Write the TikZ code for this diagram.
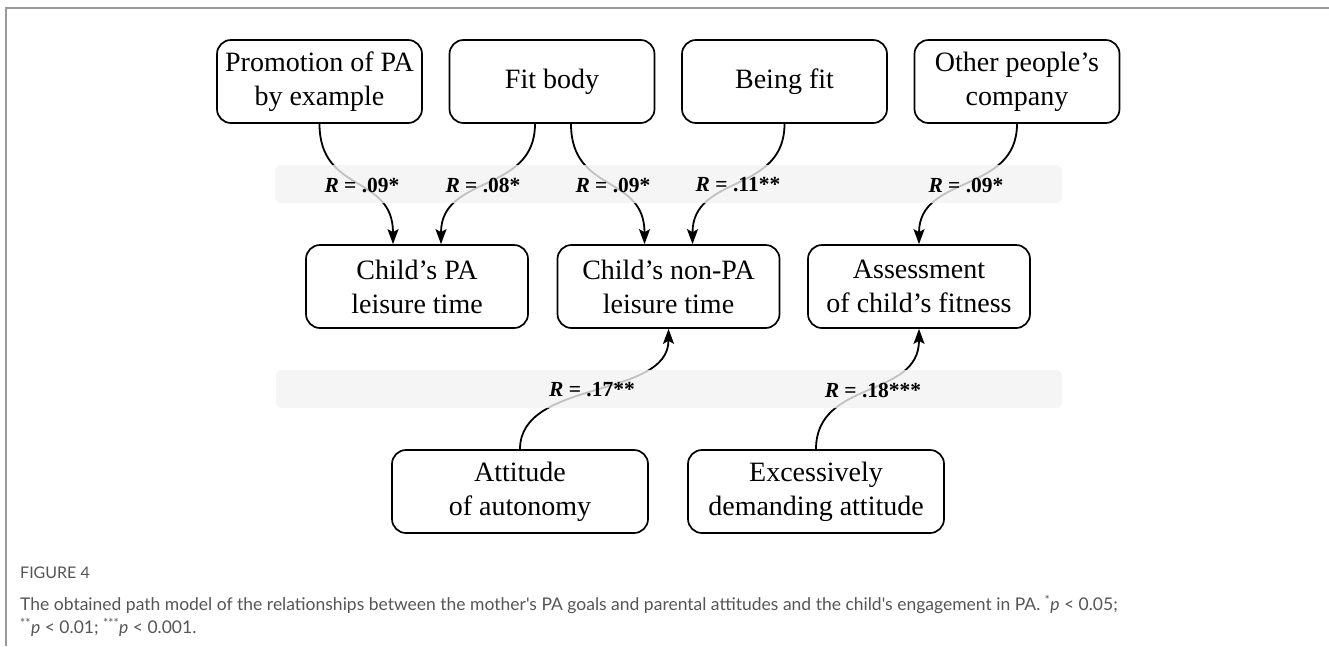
\documentclass[tikz,border=0pt]{standalone}
\usepackage{fontspec}
\setmainfont{Liberation Serif}
\newfontfamily\capfont{Lato}
\usetikzlibrary{arrows.meta}
\definecolor{bandgray}{HTML}{F2F2F2}
\definecolor{framegray}{HTML}{9A9A9A}
\definecolor{capgray}{HTML}{555555}

\begin{document}
\begin{tikzpicture}[x=1pt, y=-1pt,
  box/.style={draw, line width=1.7pt, rounded corners=14pt, align=center,
    minimum height=83pt, inner sep=0pt, font=\fontsize{28}{34}\selectfont},
  rlabel/.style={font=\fontsize{21.5}{24}\selectfont\bfseries, inner sep=1pt},
  link/.style={line width=1.8pt, -{Stealth[length=15pt, width=11pt, inset=3pt]}},
  band/.style={fill=bandgray, fill opacity=0.8, rounded corners=6pt}]
	\useasboundingbox (0,0) rectangle (1329,646);
	\draw[framegray, line width=1.5pt] (6,646) -- (6,8) -- (1329,8);

	% mother's PA goals
	\node[box, minimum width=205pt] (prom) at (319.5,81.5) {Promotion of PA\\by example};
	\node[box, minimum width=205pt] (fitbody) at (552,81.5) {Fit body};
	\node[box, minimum width=205pt] (beingfit) at (784.5,81.5) {Being fit};
	\node[box, minimum width=205pt] (company) at (1017,81.5) {Other people's\\company};

	% child's engagement
	\node[box, minimum width=222pt] (cpa) at (417,286.5) {Child's PA\\leisure time};
	\node[box, minimum width=222pt] (cnonpa) at (668.5,286.5) {Child's non-PA\\leisure time};
	\node[box, minimum width=222pt] (assess) at (919,286.5) {Assessment\\of child's fitness};

	% parental attitudes
	\node[box, minimum width=256pt] (autonomy) at (520,491.5) {Attitude\\of autonomy};
	\node[box, minimum width=256pt] (demanding) at (816,491.5) {Excessively\\demanding attitude};

	% paths
	\draw[link] (prom.south) .. controls +(0,70) and +(0,-70) .. ([xshift=-24pt]cpa.north);
	\draw[link] ([xshift=-17pt]fitbody.south) .. controls +(0,70) and +(0,-70) .. ([xshift=24pt]cpa.north);
	\draw[link] ([xshift=19pt]fitbody.south) .. controls +(0,70) and +(0,-70) .. ([xshift=-24pt]cnonpa.north);
	\draw[link] (beingfit.south) .. controls +(0,70) and +(0,-70) .. ([xshift=24pt]cnonpa.north);
	\draw[link] (company.south) .. controls +(0,70) and +(0,-70) .. (assess.north);
	\draw[link] (autonomy.north) .. controls +(0,-70) and +(0,70) .. (cnonpa.south);
	\draw[link] (demanding.north) .. controls +(0,-70) and +(0,70) .. (assess.south);

	% label bands
	\fill[band] (275,165) rectangle (1062,203);
	\fill[band] (276,370) rectangle (1062,408);

	\node[rlabel] (r1) at (362,185) {\textit{R} = .09*};
	\node[rlabel] (r2) at (483,185) {\textit{R} = .08*};
	\node[rlabel] (r3) at (613,185) {\textit{R} = .09*};
	\node[rlabel] (r4) at (738,185) {\textit{R} = .11**};
	\node[rlabel] (r5) at (966,185) {\textit{R} = .09*};
	\node[rlabel] (r6) at (592,390) {\textit{R} = .17**};
	\node[rlabel] (r7) at (873,390) {\textit{R} = .18***};

	% caption
	\node[anchor=west, inner sep=0pt, text=capgray, font=\capfont\fontsize{16}{18}\selectfont] (figlabel) at (20,573) {FIGURE 4};
	\node[anchor=north west, align=left, inner sep=0pt, text=capgray, font=\capfont\fontsize{17.5}{23}\selectfont] (caption) at (20,595)
		{The obtained path model of the relationships between the mother's PA goals and parental attitudes and the child's engagement in PA. \textsuperscript{*}\textit{p} < 0.05;\\
		\textsuperscript{**}\textit{p} < 0.01; \textsuperscript{***}\textit{p} < 0.001.};
\end{tikzpicture}
\end{document}
